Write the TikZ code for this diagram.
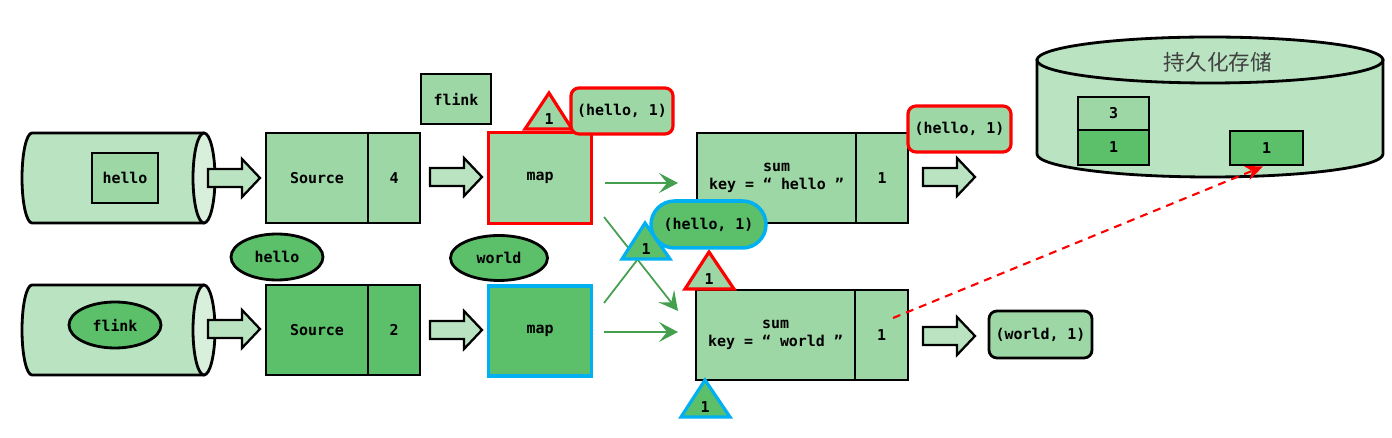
\documentclass[tikz,border=0pt]{standalone}
\usepackage{fontspec}
\setmonofont{DejaVu Sans Mono}
\newfontfamily\cjk{Noto Sans CJK SC}
\usepackage{tikz}
\usetikzlibrary{positioning, shapes, arrows, arrows.meta}

\definecolor{glight}{RGB}{185,227,193}
\definecolor{gface}{RGB}{216,239,220}
\definecolor{gmid}{RGB}{157,215,165}
\definecolor{gdark}{RGB}{92,191,106}
\definecolor{garrow}{RGB}{68,160,78}
\definecolor{cred}{RGB}{255,0,0}
\definecolor{cblue}{RGB}{0,176,240}

\begin{document}
\begin{tikzpicture}[x=0.02cm, y=-0.02cm, inner sep=0pt,
    txt/.style={font=\ttfamily\bfseries\fontsize{8.5}{10.2}\selectfont, text=black},
    blk/.style={txt, draw=black, line width=1.6pt, align=center},
    lite/.style={blk, fill=gmid},
    dark/.style={blk, fill=gdark},
    oval/.style={blk, ellipse, fill=gdark, minimum width=1.84cm, minimum height=0.92cm},
    tag/.style={blk, fill=gmid, rounded corners=4.5pt, minimum width=2.04cm, minimum height=0.92cm},
    fat/.style={draw=black, line width=1.3pt, fill=glight, line join=miter},
    flow/.style={draw=garrow, line width=1pt, -{Stealth[length=3.8mm, width=4mm, inset=1.6mm]}},
    tri/.style={line width=1.8pt, line join=miter},
    tube/.style={draw=black, line width=1.6pt, fill=glight}]
  \useasboundingbox (0,0) rectangle (1392,438);

  \foreach \y in {178, 330}{
    \filldraw[tube] (204,\y-45) -- (32,\y-45) arc[start angle=270, end angle=90, x radius=10, y radius=45] -- (204,\y+45);
    \filldraw[tube, fill=gface] (204,\y) ellipse[x radius=11, y radius=45];
  }
  \foreach \x/\y in {234/178, 234/329, 456/177, 456/330, 949/177, 949/336}
    \draw[fat] (\x,\y) ++(-26,-9) -- ++(34,0) -- ++(0,-10) -- ++(18,19) -- ++(-18,19) -- ++(0,-10) -- ++(-34,0) -- cycle;

  \node[lite, minimum width=1.32cm, minimum height=1cm] (w1) at (125,178) {hello};
  \node[oval] (w2) at (115,325) {flink};
  \node[lite, minimum width=2.04cm, minimum height=1.8cm] (src1) at (317,178) {Source};
  \node[lite, minimum width=1.04cm, minimum height=1.8cm] (cnt1) at (394,178) {4};
  \node[dark, minimum width=2.04cm, minimum height=1.8cm] (src2) at (317,330) {Source};
  \node[dark, minimum width=1.04cm, minimum height=1.8cm] (cnt2) at (394,330) {2};
  \node[oval] (w3) at (277,257) {hello};
  \node[lite, minimum width=1.4cm, minimum height=1cm] (w4) at (456,99) {flink};
  \node[lite, draw=cred, line width=1.8pt, minimum width=2.06cm, minimum height=1.82cm] (map1) at (540,178) {map};
  \node[dark, draw=cblue, line width=1.8pt, minimum width=2.06cm, minimum height=1.8cm] (map2) at (540,331) {map};
  \node[oval, minimum width=1.94cm, minimum height=0.9cm] (w5) at (499,258) {world};
  \node[lite, minimum width=3.18cm, minimum height=1.8cm] (sum1) at (776.5,178) {sum\\key = “ hello ”};
  \node[lite, minimum width=1.04cm, minimum height=1.8cm] (acc1) at (882,178) {1};
  \node[lite, minimum width=3.18cm, minimum height=1.8cm] (sum2) at (775.5,335) {sum\\key = “ world ”};
  \node[lite, minimum width=1.06cm, minimum height=1.8cm] (acc2) at (881.5,335) {1};

  \coordinate (a1) at (605,183);
  \coordinate (b1) at (678,183);
  \coordinate (a2) at (604,217);
  \coordinate (b2) at (678,311);
  \coordinate (a3) at (604,303);
  \coordinate (b3) at (678,207);
  \coordinate (a4) at (604,332);
  \coordinate (b4) at (678,332);
  \foreach \i in {1,...,4}
    \draw[flow] (a\i) -- (b\i);

  \filldraw[tri, draw=cred, fill=gmid] (549,93) -- (572,129) -- (525,129) -- cycle;
  \node[txt] (k1) at (549,119) {1};
  \filldraw[tri, draw=cblue, fill=gdark] (645,223) -- (670,259) -- (622,259) -- cycle;
  \node[txt] (k2) at (646,249) {1};
  \filldraw[tri, draw=cred, fill=gmid] (709,252) -- (734,289) -- (685,289) -- cycle;
  \node[txt] (k3) at (709,279) {1};
  \filldraw[tri, draw=cblue, fill=gdark] (705,380) -- (730,417) -- (681,417) -- cycle;
  \node[txt] (k4) at (705,407) {1};

  \node[tag, draw=cred, line width=1.8pt] (t1) at (622,111) {(hello, 1)};
  \node[tag, draw=cred, line width=1.8pt, minimum width=2.06cm] (t2) at (959.5,129) {(hello, 1)};
  \node[tag, minimum width=2.06cm, minimum height=0.94cm] (t3) at (1040.5,334.5) {(world, 1)};
  \node[blk, rounded rectangle, fill=gdark, draw=cblue, line width=2pt, minimum width=2.3cm, minimum height=0.94cm] (t4) at (708.5,224.5) {(hello, 1)};

  \filldraw[tube] (1037,60) -- (1037,154) arc[start angle=180, end angle=0, x radius=173, y radius=23] -- (1383,60) -- cycle;
  \filldraw[tube] (1210,60) ellipse[x radius=173, y radius=23];
  \node[font=\cjk\fontsize{12.3}{14}\selectfont, text=black!75] (db) at (1218,62) {持久化存储};
  \node[lite, minimum width=1.42cm, minimum height=0.66cm] (s1) at (1113.5,113.5) {3};
  \node[dark, minimum width=1.42cm, minimum height=0.7cm] (s2) at (1113.5,147.5) {1};
  \node[dark, minimum width=1.46cm, minimum height=0.68cm] (s3) at (1266.5,148) {1};

  \draw[cred, line width=1.2pt, dash pattern=on 4.5pt off 3.5pt, -{Stealth[length=3.5mm, width=3mm]}] ([shift={(11.5,-17)}]acc2.center) -- ([xshift=-0.07cm]s3.south);
\end{tikzpicture}
\end{document}
